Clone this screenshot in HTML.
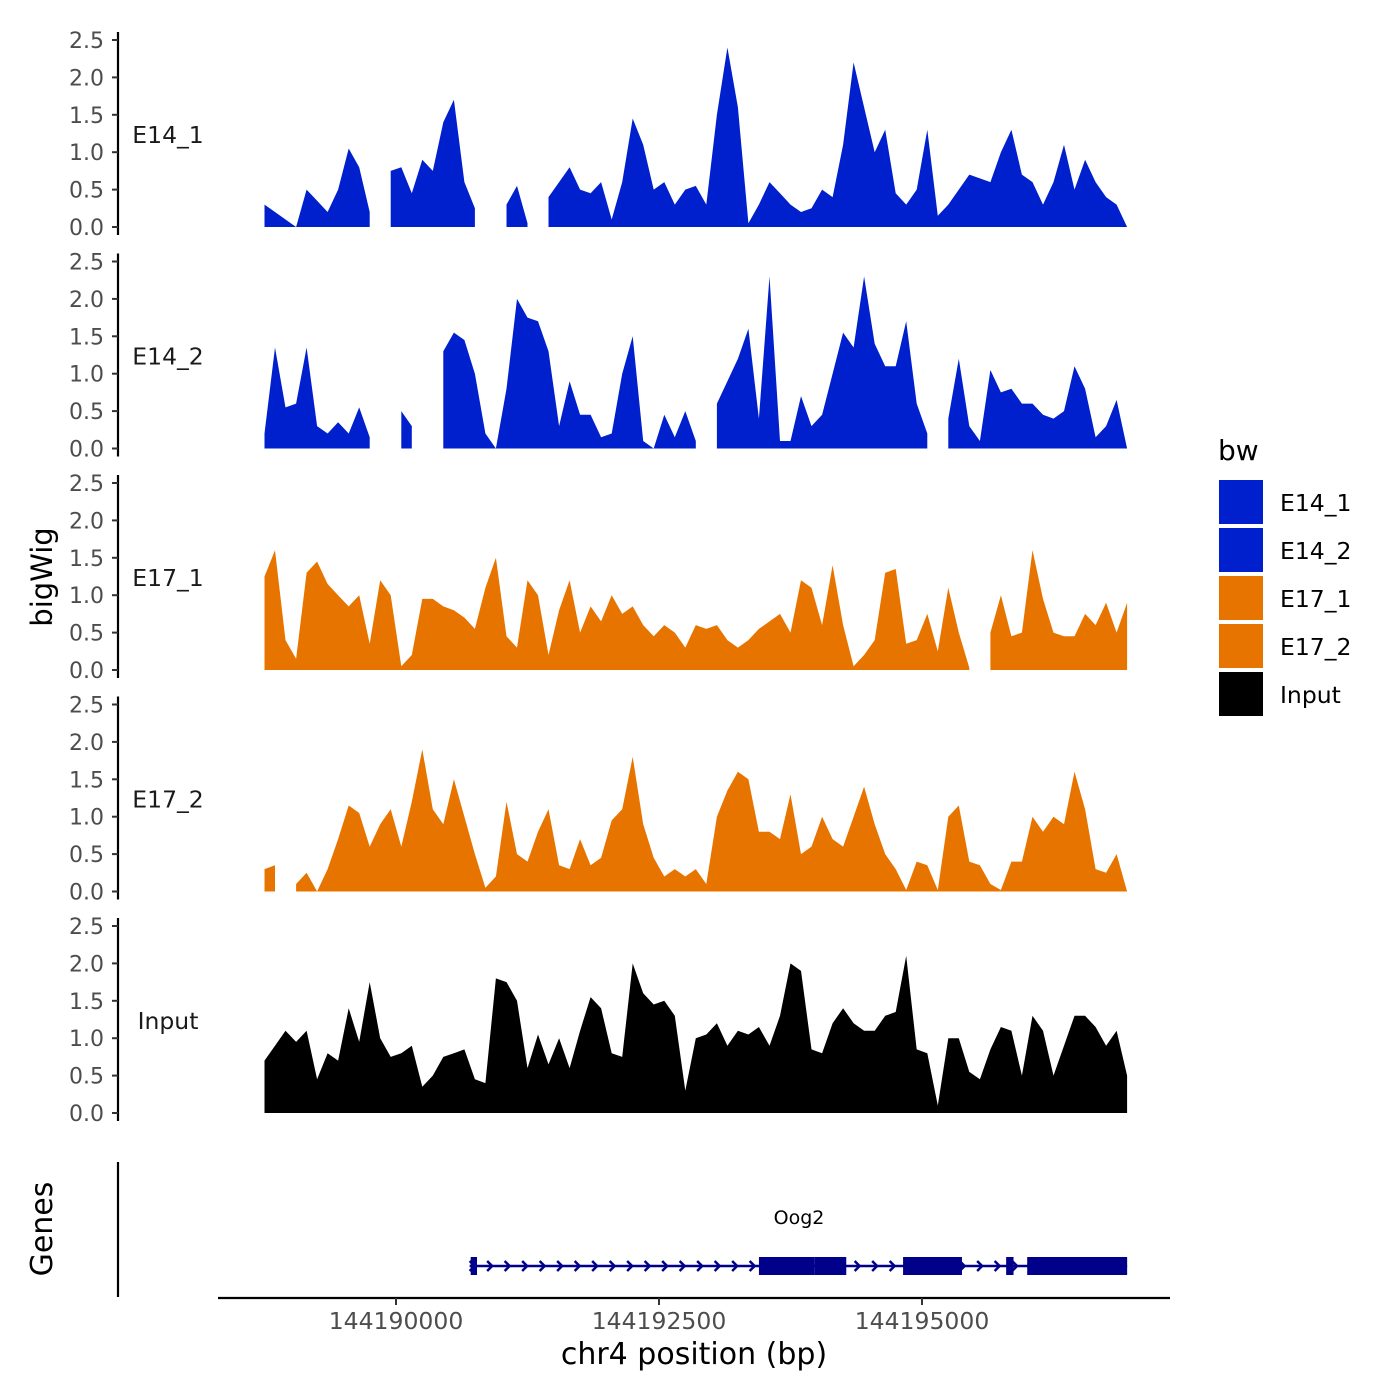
<!DOCTYPE html>
<html><head><meta charset="utf-8">
<style>
html,body{margin:0;padding:0;background:#fff;}
svg{display:block;font-family:"DejaVu Sans","Liberation Sans",sans-serif;}
</style></head>
<body>
<svg id="chart" width="1400" height="1400" viewBox="0 0 1400 1400" xmlns="http://www.w3.org/2000/svg"></svg>
<script>
const gridStart = 144188750;
const gridStep = 100;
const trackNames = ["E14_1","E14_2","E17_1","E17_2","Input"];
const trackColors = ["#0020CE","#0020CE","#E87400","#E87400","#000000"];
const yTicks = [0,0.5,1,1.5,2,2.5];
const yTickLabels = ["0.0","0.5","1.0","1.5","2.0","2.5"];
const xTicks = [144190000,144192500,144195000];
const xTickLabels = ["144190000","144192500","144195000"];
const N = null;
const e14_1 = [0.3,0.2,0.1,0,0.5,0.35,0.2,0.5,1.05,0.8,0.2,N,0.75,0.8,0.45,0.9,0.75,1.4,1.7,0.6,0.25,N,N,0.3,0.55,0.05,N,0.4,0.6,0.8,0.5,0.45,0.6,0.1,0.6,1.45,1.1,0.5,0.6,0.3,0.5,0.55,0.3,1.5,2.4,1.6,0.05,0.3,0.6,0.45,0.3,0.2,0.25,0.5,0.4,1.1,2.2,1.6,1.0,1.3,0.45,0.3,0.5,1.3,0.15,0.3,0.5,0.7,0.65,0.6,1.0,1.3,0.7,0.6,0.3,0.6,1.1,0.5,0.9,0.6,0.4,0.3,0];
const e14_2 = [0.2,1.35,0.55,0.6,1.35,0.3,0.2,0.35,0.2,0.55,0.15,N,N,0.5,0.3,N,N,1.3,1.55,1.45,1.0,0.2,0,0.8,2.0,1.75,1.7,1.3,0.3,0.9,0.45,0.45,0.15,0.2,1.0,1.5,0.1,0,0.45,0.15,0.5,0.1,N,0.6,0.9,1.2,1.6,0.4,2.3,0.1,0.1,0.7,0.3,0.45,1.0,1.55,1.35,2.3,1.4,1.1,1.1,1.7,0.6,0.2,N,0.4,1.2,0.3,0.1,1.05,0.75,0.8,0.6,0.6,0.45,0.4,0.5,1.1,0.8,0.15,0.3,0.65,0];
const e17_1 = [1.25,1.6,0.4,0.15,1.3,1.45,1.15,1.0,0.85,1.0,0.35,1.2,1.0,0.05,0.2,0.95,0.95,0.85,0.8,0.7,0.55,1.1,1.5,0.45,0.3,1.2,1.0,0.2,0.8,1.2,0.5,0.85,0.65,1.0,0.75,0.85,0.6,0.45,0.6,0.5,0.3,0.6,0.55,0.6,0.4,0.3,0.4,0.55,0.65,0.75,0.5,1.2,1.1,0.6,1.4,0.6,0.05,0.2,0.4,1.3,1.35,0.35,0.4,0.75,0.25,1.1,0.5,0.03,N,0.5,1.0,0.45,0.5,1.6,0.95,0.5,0.45,0.45,0.75,0.6,0.9,0.5,0.9];
const e17_2 = [0.3,0.35,N,0.1,0.25,0,0.3,0.7,1.15,1.05,0.6,0.9,1.1,0.6,1.2,1.9,1.1,0.9,1.5,1.0,0.5,0.05,0.2,1.2,0.5,0.4,0.8,1.1,0.35,0.3,0.7,0.35,0.45,0.95,1.1,1.8,0.9,0.45,0.2,0.3,0.2,0.3,0.1,1.0,1.35,1.6,1.5,0.8,0.8,0.7,1.3,0.5,0.6,1.0,0.7,0.6,1.0,1.4,0.9,0.5,0.3,0.02,0.4,0.35,0.02,1.0,1.15,0.4,0.35,0.1,0.02,0.4,0.4,1.0,0.8,1.0,0.9,1.6,1.1,0.3,0.25,0.5,0];
const input = [0.7,0.9,1.1,0.95,1.1,0.45,0.8,0.7,1.4,0.95,1.75,1.0,0.75,0.8,0.9,0.35,0.5,0.75,0.8,0.85,0.45,0.4,1.8,1.75,1.5,0.6,1.05,0.65,1.0,0.6,1.1,1.55,1.4,0.8,0.75,2.0,1.6,1.45,1.5,1.3,0.3,1.0,1.05,1.2,0.9,1.1,1.05,1.15,0.9,1.3,2.0,1.9,0.85,0.8,1.2,1.4,1.2,1.1,1.1,1.3,1.35,2.1,0.85,0.8,0.1,1.0,1.0,0.55,0.45,0.85,1.15,1.1,0.5,1.3,1.1,0.5,0.9,1.3,1.3,1.15,0.9,1.1,0.5];
const trackValues = [e14_1,e14_2,e17_1,e17_2,input];
const geneStart = 144190700;
const geneEnd = 144196950;
const exonStarts = [144190710,144193450,144193980,144194820,144195800,144196000];
const exonEnds = [144190770,144193980,144194280,144195380,144195870,144196950];

const svg = document.getElementById('chart');
const NS = 'http://www.w3.org/2000/svg';
function mk(tag, attrs, parent){
  const e = document.createElementNS(NS, tag);
  for (const k in attrs) e.setAttribute(k, attrs[k]);
  (parent||svg).appendChild(e);
  return e;
}
function xs(bp){ return 396 + (bp - 144190000) * 263 / 2500; }
const panelZero = [227, 448.5, 670, 891.5, 1113];
const unitPx = 74.8;

trackNames.forEach((name, t) => {
  const z = panelZero[t];
  const ys = v => z - v * unitPx;
  const g = mk('g', {});
  
  
  const ax = mk('line', {x1:118, x2:118, y1:z-195, y2:z+8, stroke:'#000', 'stroke-width':2.2}, g);
  
  
  yTicks.forEach((v, i) => {
    mk('line', {x1:112, x2:118, y1:ys(v), y2:ys(v), stroke:'#333', 'stroke-width':2}, g);
    const tl = mk('text', {x:104, y:ys(v)+8, 'text-anchor':'end', 'font-size':22, fill:'#4d4d4d'}, g);
    tl.textContent = yTickLabels[i];
    
    
  });
  const fl = mk('text', {x:168, y:z-92+8, 'text-anchor':'middle', 'font-size':23.5, fill:'#1a1a1a'}, g);
  fl.textContent = name;
  
  
  const vals = trackValues[t];
  let seg = [];
  const segs = [];
  vals.forEach((v, i) => {
    if (v === null) { if (seg.length) segs.push(seg); seg = []; }
    else seg.push([gridStart + i * gridStep, v]);
  });
  if (seg.length) segs.push(seg);
  segs.forEach(s => {
    let d = 'M' + xs(s[0][0]).toFixed(1) + ',' + z;
    s.forEach(p => { d += 'L' + xs(p[0]).toFixed(1) + ',' + ys(p[1]).toFixed(1); });
    d += 'L' + xs(s[s.length-1][0]).toFixed(1) + ',' + z + 'Z';
    const a = mk('path', {d:d, fill:trackColors[t]}, g);
    
    
  });
});

const gg = mk('g', {});


mk('line', {x1:118, x2:118, y1:1162, y2:1297, stroke:'#000', 'stroke-width':2.2}, gg);
const gy = 1266;
const navy = '#00008B';
const gl = mk('line', {x1:xs(geneStart), x2:xs(geneEnd), y1:gy, y2:gy, stroke:navy, 'stroke-width':2.5}, gg);


for (let x = xs(geneStart) + 3; x < xs(geneEnd); x += 17.5) {
  mk('polyline', {points:(x-3)+','+(gy-5)+' '+(x+2)+','+gy+' '+(x-3)+','+(gy+5), fill:'none', stroke:navy, 'stroke-width':2.5}, gg);
}
exonStarts.forEach((s, i) => {
  const r = mk('rect', {x:xs(s), y:gy-9, width:xs(exonEnds[i])-xs(s), height:18, fill:navy}, gg);
  
  
});
const gn = mk('text', {x:799, y:1224, 'text-anchor':'middle', 'font-size':19, fill:'#000'}, gg);
gn.textContent = 'Oog2';


const gt = mk('text', {x:0, y:0, 'text-anchor':'middle', 'font-size':30, fill:'#000', transform:'translate(52,1229) rotate(-90)'}, gg);
gt.textContent = 'Genes';



const yt = mk('text', {x:0, y:0, 'text-anchor':'middle', 'font-size':29, fill:'#000', transform:'translate(52,577) rotate(-90)'});
yt.textContent = 'bigWig';



const xa = mk('line', {x1:218, x2:1170, y1:1298, y2:1298, stroke:'#000', 'stroke-width':2.2});


xTicks.forEach((b, i) => {
  mk('line', {x1:xs(b), x2:xs(b), y1:1298, y2:1305, stroke:'#333', 'stroke-width':2});
  const t = mk('text', {x:xs(b), y:1329, 'text-anchor':'middle', 'font-size':23.5, fill:'#4d4d4d'});
  t.textContent = xTickLabels[i];
  
  
});
const xt = mk('text', {x:694, y:1364, 'text-anchor':'middle', 'font-size':30, fill:'#000'});
xt.textContent = 'chr4 position (bp)';



const lg = mk('g', {});


const lt = mk('text', {x:1218, y:460, 'font-size':28, fill:'#000'}, lg);
lt.textContent = 'bw';


trackNames.forEach((n, i) => {
  const y = 480 + i * 48;
  const k = mk('rect', {x:1219, y:y, width:44, height:44, fill:trackColors[i]}, lg);
  
  
  const l = mk('text', {x:1280, y:y+31, 'font-size':23.5, fill:'#000'}, lg);
  l.textContent = n;
  
  
});
</script>
</body></html>
